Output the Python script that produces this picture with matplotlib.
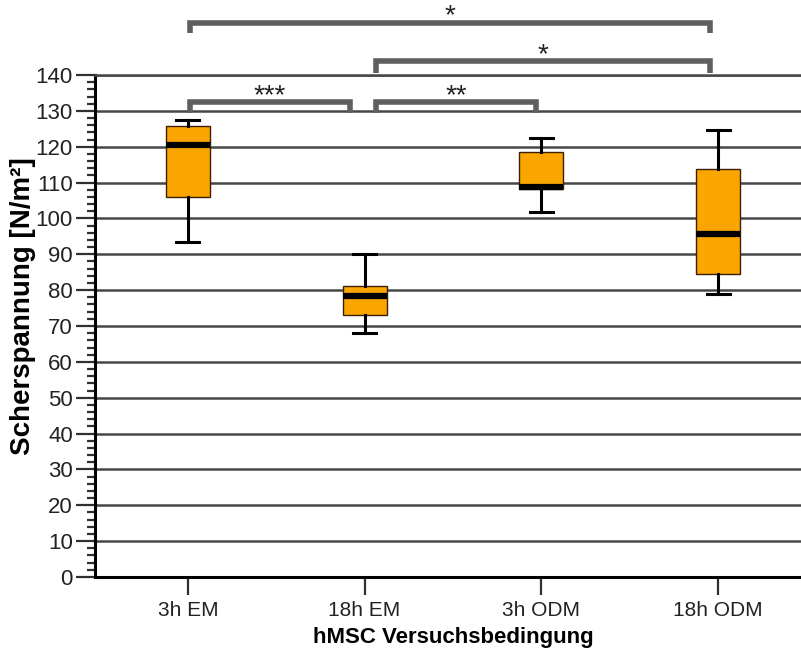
import matplotlib
matplotlib.use("Agg")
import matplotlib.pyplot as plt
from matplotlib.ticker import MultipleLocator

plt.rcParams['font.family'] = ['Liberation Sans', 'DejaVu Sans']

categories = ["3h EM", "18h EM", "3h ODM", "18h ODM"]
whisker_low = [93.5, 68.1, 101.9, 78.9]
q1 = [105.9, 73.0, 108.3, 84.5]
median = [120.5, 78.5, 108.9, 95.6]
q3 = [125.8, 81.1, 118.4, 113.8]
whisker_high = [127.5, 90.0, 122.3, 124.8]

# significance brackets: (group a, group b, label)
sig_a = [0, 1, 1, 0]
sig_b = [1, 2, 3, 3]
sig_labels = ["***", "**", "*", "*"]

fig = plt.figure(figsize=(8.01, 6.54), dpi=100)
ax = fig.add_axes([95/801, 77/654, 716/801, 502/654])

pos = list(range(len(categories)))
stats = []
for i in pos:
    stats.append(dict(med=median[i], q1=q1[i], q3=q3[i],
                      whislo=whisker_low[i], whishi=whisker_high[i],
                      fliers=[], label=categories[i]))

ax.set_ylim(0, 140)
ax.set_xlim(-0.525, 3.525)

ax.yaxis.set_major_locator(MultipleLocator(10))
ax.yaxis.set_minor_locator(MultipleLocator(2))
ax.grid(axis='y', which='major', color='#484848', linewidth=1.8, zorder=0)
ax.set_axisbelow(True)

ax.bxp(stats, positions=pos, widths=0.25, patch_artist=True, showfliers=False,
       boxprops=dict(facecolor='#FBA500', edgecolor='#3a2000', linewidth=1.0),
       medianprops=dict(color='black', linewidth=4.5, solid_capstyle='butt'),
       whiskerprops=dict(color='black', linewidth=2.2),
       capprops=dict(color='black', linewidth=2.2),
       capwidths=0.13, zorder=3)

ax.set_xticks(pos)
ax.set_xticklabels(categories)

for s in ['top', 'right']:
    ax.spines[s].set_visible(True)
    ax.spines[s].set_linewidth(1.8)
    ax.spines[s].set_color('#484848')
for s in ['left', 'bottom']:
    ax.spines[s].set_linewidth(2.2)
    ax.spines[s].set_color('black')

ax.tick_params(axis='y', which='major', length=14, width=1.6, color='#303030',
               labelsize=16, pad=2, labelcolor='#222222')
ax.tick_params(axis='y', which='minor', length=6, width=1.6, color='#303030')
ax.tick_params(axis='x', which='major', length=13, width=1.6, color='#303030',
               labelsize=15, pad=4, labelcolor='#222222')

ax.set_ylabel("Scherspannung [N/m²]", fontsize=20, fontweight='bold')
ax.yaxis.set_label_coords(-0.082, 0.54)
ax.set_xlabel("hMSC Versuchsbedingung", fontsize=16, fontweight='bold', labelpad=5)

# brackets (style)
left_off = [0.015, 0.066, 0.066, 0.015]
right_off = [-0.085, -0.03, -0.045, -0.045]
bar_y = [132.5, 132.5, 143.9, 154.6]
leg_y = [129.5, 129.5, 140.5, 151.8]
for k in range(len(sig_labels)):
    x0 = sig_a[k] + left_off[k]
    x1 = sig_b[k] + right_off[k]
    ax.plot([x0, x0, x1, x1], [leg_y[k], bar_y[k], bar_y[k], leg_y[k]],
            color='#5f5f5f', linewidth=4, clip_on=False, zorder=4,
            solid_joinstyle='miter', solid_capstyle='butt')
    ax.annotate(sig_labels[k], xy=((x0 + x1) / 2, bar_y[k]), xytext=(0, -1),
                textcoords='offset pixels', ha='center', va='baseline',
                fontsize=20, color='#222222', annotation_clip=False)

fig.savefig("out.png", dpi=100)
